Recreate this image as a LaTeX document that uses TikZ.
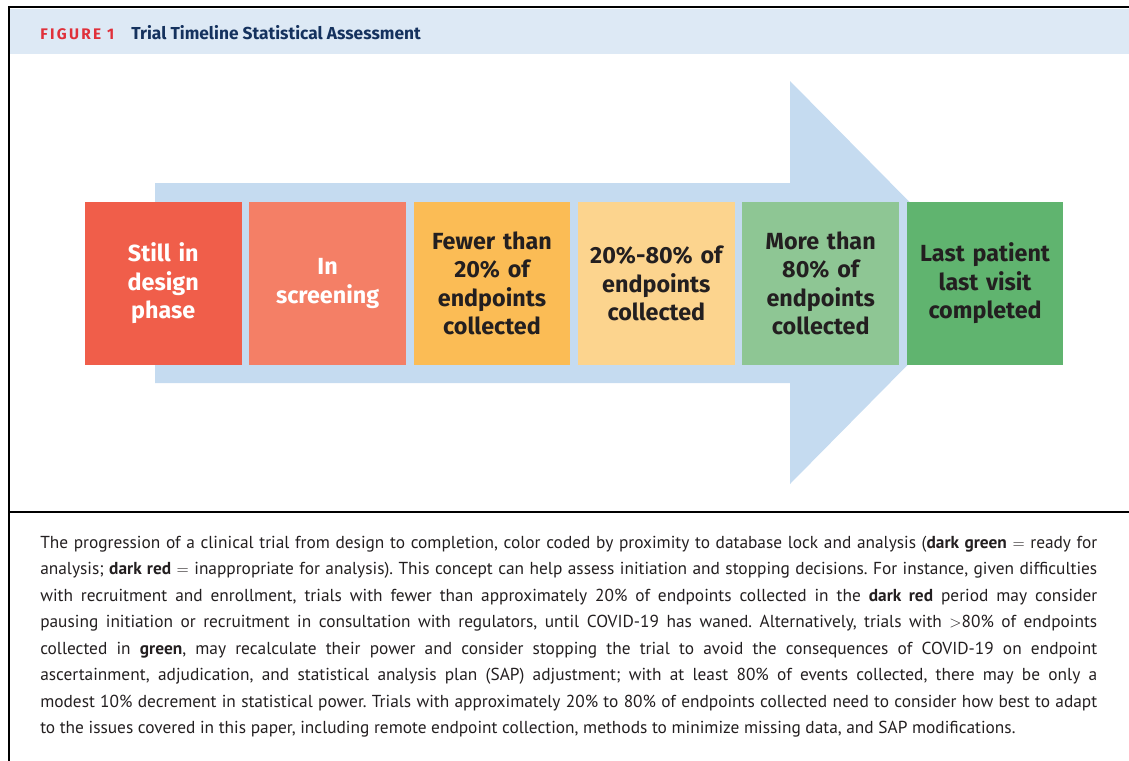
\documentclass[tikz,border=0pt]{standalone}
\usepackage{fontspec}
\setmainfont{PT Sans}
\newfontfamily\stagefont{Fira Sans}
\usetikzlibrary{positioning} % 相对地放置节点

\definecolor{hdrblue}{HTML}{DDE9F5}
\definecolor{arrowblue}{HTML}{C5DBF0}
\definecolor{figred}{HTML}{E0303A}
\definecolor{titlenavy}{HTML}{15325E}
\definecolor{darktext}{HTML}{231F20}
\definecolor{stageA}{HTML}{F05E4A}
\definecolor{stageB}{HTML}{F47F66}
\definecolor{stageC}{HTML}{FBBC55}
\definecolor{stageD}{HTML}{FCD48E}
\definecolor{stageE}{HTML}{8EC694}
\definecolor{stageF}{HTML}{60B46F}

\begin{document}
\begin{tikzpicture}[x=0.75pt,y=-0.75pt,node distance=5.5pt,
  % 坐标用像素,y 轴向下
  % 每个阶段的方框
  stage/.style={minimum width=117.375pt,minimum height=122.25pt,inner sep=0pt,
    text width=114pt,align=center,text=darktext,
    font=\stagefont\bfseries\fontsize{17.5}{21.4}\selectfont},
  {light stage}/.style={stage,text=white},
  frame/.style={line width=1.5pt,black}]

  \useasboundingbox (0,0) rectangle (1129,761);

  % 标题栏
  \fill[hdrblue] (10,9) rectangle (1129,54);
  \node [anchor=base west,inner sep=0pt,text=figred,
    font=\stagefont\bfseries\fontsize{11.5}{14}\selectfont\addfontfeature{LetterSpace=15}]
    (fignum) at (40,39) {FIGURE 1};
  \node [anchor=base west,inner sep=0pt,text=titlenavy,
    font=\stagefont\bfseries\fontsize{13}{15}\selectfont]
    (title) at (131,39) {Trial Timeline Statistical Assessment};

  % 背景的大箭头
  \fill[arrowblue] (155,183) -- (790,183) -- (790,81) -- (989,282.5)
    -- (790,484) -- (790,383) -- (155,383) -- cycle;

  % 六个阶段
  \node [light stage,fill=stageA] (design) at (163.25,283.5) {Still in\\design\\phase};
  \node [light stage,fill=stageB] (screening) [right=of design] {In\\screening};
  \node [stage,fill=stageC] (under20) [right=of screening] {Fewer than\\20\% of\\endpoints\\collected};
  \node [stage,fill=stageD] (midway) [right=of under20] {20\%-80\% of\\endpoints\\collected};
  \node [stage,fill=stageE] (over80) [right=of midway] {More than\\80\% of\\endpoints\\collected};
  \node [stage,fill=stageF] (lastvisit) [right=of over80] {Last patient\\last visit\\completed};

  % 边框
  \draw[frame] (9,761) -- (9,7) -- (1129,7);
  \draw[frame] (9,512) -- (1129,512);

  % 图注
  \node [anchor=north west,inner sep=0pt,text width=792.75pt,align=justify,
    text=darktext,font=\fontsize{13}{19.9}\selectfont\frenchspacing] (caption) at (40,535.5)
  {The progression of a clinical trial from design to completion, color coded by proximity to database lock and analysis (\textbf{dark green} $=$ ready for\linebreak
  analysis; \textbf{dark red} $=$ inappropriate for analysis). This concept can help assess initiation and stopping decisions. For instance, given difficulties\linebreak
  with recruitment and enrollment, trials with fewer than approximately 20\% of endpoints collected in the \textbf{dark red} period may consider\linebreak
  pausing initiation or recruitment in consultation with regulators, until COVID-19 has waned. Alternatively, trials with $>$80\% of endpoints\linebreak
  collected in \textbf{green}, may recalculate their power and consider stopping the trial to avoid the consequences of COVID-19 on endpoint\linebreak
  ascertainment, adjudication, and statistical analysis plan (SAP) adjustment; with at least 80\% of events collected, there may be only a\linebreak
  modest 10\% decrement in statistical power. Trials with approximately 20\% to 80\% of endpoints collected need to consider how best to adapt\linebreak
  to the issues covered in this paper, including remote endpoint collection, methods to minimize missing data, and SAP modifications.};

\end{tikzpicture}
\end{document}
